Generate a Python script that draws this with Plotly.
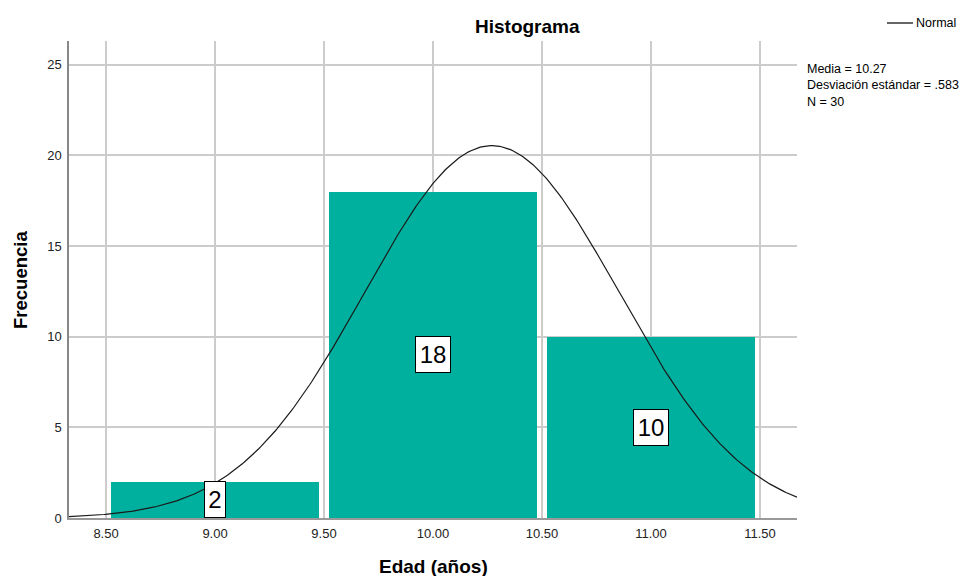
import numpy as np
import plotly.graph_objects as go

# Data
bin_centers = [9.0, 10.0, 11.0]
counts = [2, 18, 10]
bar_labels = ["2", "18", "10"]
mean_val = 10.27
sd_val = 0.583
n_val = 30
bin_width = 1.0
x_ticks = [8.5, 9.0, 9.5, 10.0, 10.5, 11.0, 11.5]
x_tick_labels = ["8.50", "9.00", "9.50", "10.00", "10.50", "11.00", "11.50"]
y_ticks = [0, 5, 10, 15, 20, 25]
stats_lines = [
    "Media = 10.27",
    "Desviación estándar = .583",
    "N = 30",
]

x_range = [8.33, 11.67]
y_range = [0, 26.3]

# Normal curve from reported statistics
xs = np.linspace(x_range[0], x_range[1], 400)
ys = n_val * bin_width / (sd_val * np.sqrt(2 * np.pi)) * np.exp(-0.5 * ((xs - mean_val) / sd_val) ** 2)

font_family = "Liberation Sans, Arial, sans-serif"

# plot area in target pixels
PL, PR, PT, PB = 69, 797, 41, 518
PW, PH = PR - PL, PB - PT


def px(X):
    return (X - PL) / PW


def py(Y):
    return (PB - Y) / PH


fig = go.Figure()
fig.add_trace(go.Bar(
    x=bin_centers, y=counts, width=0.955,
    marker=dict(color="#00b09e", line=dict(width=0)),
    showlegend=False, hoverinfo="skip",
))
fig.add_trace(go.Scatter(
    x=xs, y=ys, mode="lines", line=dict(color="#1a1a1a", width=1.2),
    name="Normal", showlegend=False, hoverinfo="skip",
))

# Value labels in the middle of each bar
for xc, c, lab in zip(bin_centers, counts, bar_labels):
    fig.add_annotation(
        x=xc, y=c / 2, text=lab, showarrow=False,
        font=dict(family=font_family, size=24, color="black"),
        width=2 + 14 * len(lab), height=31,
        bgcolor="white", bordercolor="black", borderwidth=1, borderpad=2,
    )

# Title
fig.add_annotation(
    xref="paper", yref="paper", x=px(527), y=py(26), yanchor="middle",
    text="<b>Histograma</b>", showarrow=False,
    font=dict(family=font_family, size=19, color="black"),
)

# Axis titles
fig.add_annotation(
    xref="paper", yref="paper", x=px(433), y=py(566), yanchor="middle",
    text="<b>Edad (años)</b>", showarrow=False,
    font=dict(family=font_family, size=19, color="black"),
)
fig.add_annotation(
    xref="paper", yref="paper", x=px(20), y=py(280), xanchor="center", yanchor="middle",
    text="<b>Frecuencia</b>", showarrow=False, textangle=-90,
    font=dict(family=font_family, size=18.5, color="black"),
)

# Legend
fig.add_shape(type="line", xref="paper", yref="paper",
              x0=px(887), x1=px(913), y0=py(23), y1=py(23),
              line=dict(color="#333333", width=1.5))
fig.add_annotation(
    xref="paper", yref="paper", x=px(914), y=py(23),
    xanchor="left", yanchor="middle", text="Normal", showarrow=False,
    font=dict(family=font_family, size=12.5, color="black"),
)

# Stats text (single multi-line block)
fig.add_annotation(
    xref="paper", yref="paper", x=px(805), y=py(85),
    xanchor="left", yanchor="middle", align="left", showarrow=False,
    text="<br>".join(stats_lines),
    font=dict(family=font_family, size=12.5, color="black"),
)

# The page body adds an 8px offset, so the figure is shrunk by that
OFF = 8
fig.update_layout(
    width=976 - OFF, height=576 - OFF,
    margin=dict(l=PL - OFF, r=976 - PR, t=PT - OFF, b=576 - PB),
    paper_bgcolor="white", plot_bgcolor="white",
    bargap=0,
    xaxis=dict(
        range=x_range, tickvals=x_ticks, ticktext=x_tick_labels,
        showgrid=True, gridcolor="#cccccc", gridwidth=1.5,
        showline=True, linecolor="#999999", linewidth=1.5,
        zeroline=False, ticks="", ticklen=0, ticklabelstandoff=3,
        automargin=False,
        tickfont=dict(family=font_family, size=13, color="#222222"),
    ),
    yaxis=dict(
        range=y_range, tickvals=y_ticks,
        showgrid=True, gridcolor="#cccccc", gridwidth=1.5,
        showline=True, linecolor="#888888", linewidth=1.5,
        zeroline=False, ticks="", ticklen=0, ticklabelstandoff=3,
        automargin=False,
        tickfont=dict(family=font_family, size=13, color="#222222"),
    ),
)

fig.write_html("out.html")
